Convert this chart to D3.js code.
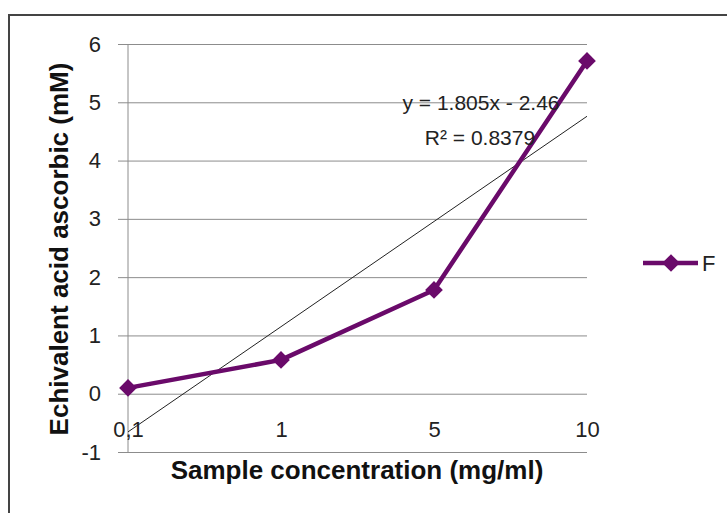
<!DOCTYPE html>
<html><head><meta charset="utf-8">
<script src="https://cdn.jsdelivr.net/npm/d3@7"></script>
<style>body{margin:0;background:#fff}svg{display:block}text{font-family:"Liberation Sans",Arial,sans-serif}</style>
</head><body><svg id="c" width="727" height="513"></svg>
<script>
const categories = ["0,1", "1", "5", "10"];
const valuesF = [0.1, 0.58, 1.78, 5.71];
const yTicks = [-1, 0, 1, 2, 3, 4, 5, 6];
const seriesName = "F";
const trendSlope = 1.805, trendIntercept = -2.46;
const trendLabel = ["y = 1.805x - 2.46", "R\u00b2 = 0.8379"];

const svg = d3.select("#c");
const purple = "#6a0a6a";
const FONT = "'Liberation Sans',Arial,sans-serif";
// outer border
svg.append("rect").attr("x", 9).attr("y", 15).attr("width", 740).attr("height", 520)
  .attr("fill", "none").attr("stroke", "#444").attr("stroke-width", 2);

const L = 128, R = 587, T = 44, B = 452;
const x = d3.scalePoint().domain(categories).range([L, R]).padding(0);
const y = d3.scaleLinear().domain([-1, 6]).range([B, T]);

// gridlines
const yAxis = d3.axisLeft(y).tickValues(yTicks).tickSize(-(R - L)).tickSizeOuter(0).tickPadding(27)
  .tickFormat(d => String(d));
const gy = svg.append("g").attr("transform", `translate(${L},0)`).call(yAxis);
gy.select(".domain").remove();
gy.selectAll(".tick line").attr("stroke", "#8c8c8c").attr("x1", -10);
gy.selectAll(".tick text").attr("font-size", 22).attr("fill", "#222").attr("font-family", FONT);
// vertical axis line
svg.append("line").attr("x1", L).attr("x2", L).attr("y1", T).attr("y2", B).attr("stroke", "#8c8c8c");

// category labels
const gx = svg.append("g").attr("transform", `translate(0,${B})`)
  .call(d3.axisBottom(x).tickSize(0).tickPadding(0));
gx.select(".domain").remove();
gx.selectAll(".tick text").attr("font-size", 22).attr("fill", "#222").attr("dy", "-15")
  .attr("font-family", FONT);

// trendline
const xi = i => x(categories[i]);
const tl = [0, categories.length - 1].map(i => [xi(i), y(trendSlope * (i + 1) + trendIntercept)]);
svg.append("path").attr("d", d3.line()(tl)).attr("stroke", "#222").attr("stroke-width", 1).attr("fill", "none");

// series
svg.append("path").datum(valuesF)
  .attr("d", d3.line().x((d, i) => xi(i)).y(d => y(d)))
  .attr("fill", "none").attr("stroke", purple).attr("stroke-width", 4.5).attr("stroke-linejoin", "round");
const diamond = d3.symbol().type(d3.symbolDiamond2).size(200);
svg.selectAll(".m").data(valuesF).join("path")
  .attr("transform", (d, i) => `translate(${xi(i)},${y(d)})`)
  .attr("d", diamond).attr("fill", purple);

// trend label
svg.append("text").attr("x", 481).attr("y", 110).attr("text-anchor", "middle").attr("font-size", 21)
  .attr("fill", "#222").text(trendLabel[0]);
svg.append("text").attr("x", 480).attr("y", 145).attr("text-anchor", "middle").attr("font-size", 21)
  .attr("fill", "#222").text(trendLabel[1]);

// axis titles
svg.append("text").attr("x", 357).attr("y", 479).attr("text-anchor", "middle").attr("font-size", 26)
  .attr("font-weight", "bold").attr("fill", "#111").text("Sample concentration (mg/ml)");
svg.append("text").attr("transform", "translate(68,249) rotate(-90)").attr("text-anchor", "middle")
  .attr("font-size", 26).attr("font-weight", "bold").attr("fill", "#111").text("Echivalent acid ascorbic (mM)");

// legend
svg.append("line").attr("x1", 643).attr("x2", 698).attr("y1", 263).attr("y2", 263)
  .attr("stroke", purple).attr("stroke-width", 4.5);
svg.append("path").attr("transform", "translate(671,263)").attr("d", diamond).attr("fill", purple);
svg.append("text").attr("x", 702).attr("y", 271).attr("font-size", 22).attr("fill", "#222").text(seriesName);
</script></body></html>
